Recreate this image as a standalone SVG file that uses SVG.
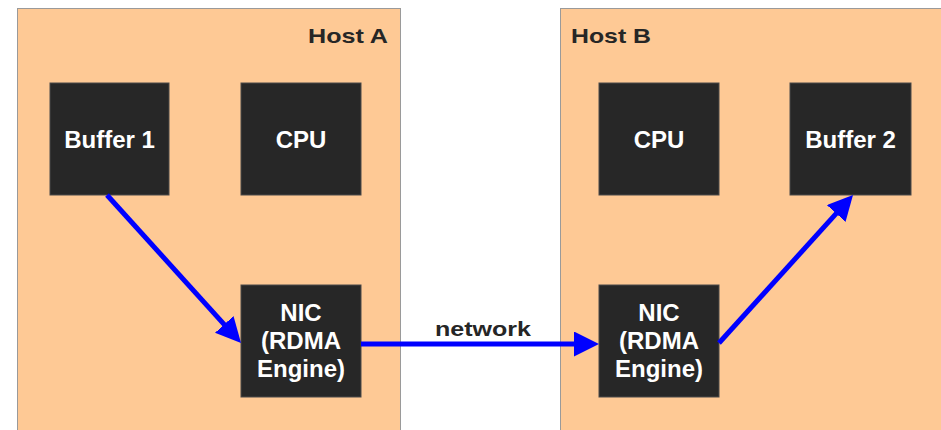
<svg xmlns="http://www.w3.org/2000/svg" width="941" height="430" viewBox="0 0 941 430">
<style>
.host{fill:#FEC995;stroke:#9a9a9a;stroke-width:1}
.node{fill:#272727;stroke:#4a4a4a;stroke-width:1}
.nt{font-family:"Liberation Sans",Arial,sans-serif;font-weight:bold;font-size:24px;fill:#ffffff;text-anchor:middle}
.lbl{font-family:"Liberation Sans",Arial,sans-serif;font-weight:bold;font-size:21px;fill:#262626}
.conn{stroke:#0000ff;stroke-width:5;fill:none}
</style>
<defs>
<marker id="ah" markerUnits="userSpaceOnUse" markerWidth="26" markerHeight="26" refX="15" refY="12.5" orient="auto" viewBox="0 0 26 26">
<path d="M0,0 L25,12.5 L0,25 z" fill="#0000ff"/>
</marker>
</defs>
<g id="hostA">
<rect class="host" x="17.5" y="8.5" width="383" height="430"/>
<text class="lbl" x="388" y="43" text-anchor="end" textLength="80" lengthAdjust="spacingAndGlyphs">Host A</text>
</g>
<g id="hostB">
<rect class="host" x="560.5" y="8.5" width="400" height="430"/>
<text class="lbl" x="571" y="43" textLength="80" lengthAdjust="spacingAndGlyphs">Host B</text>
</g>
<g id="buffer1">
<rect class="node" x="50" y="83" width="119" height="112"/>
<text class="nt" x="109.5" y="148">Buffer 1</text>
</g>
<g id="cpuA">
<rect class="node" x="241" y="83" width="120" height="112"/>
<text class="nt" x="301" y="148">CPU</text>
</g>
<g id="nicA">
<rect class="node" x="241" y="285" width="120" height="112"/>
<text class="nt" x="301" y="321">NIC</text>
<text class="nt" x="301" y="349">(RDMA</text>
<text class="nt" x="301" y="377">Engine)</text>
</g>
<g id="cpuB">
<rect class="node" x="599" y="83" width="120" height="112"/>
<text class="nt" x="659" y="148">CPU</text>
</g>
<g id="buffer2">
<rect class="node" x="790" y="83" width="121" height="112"/>
<text class="nt" x="850.5" y="148">Buffer 2</text>
</g>
<g id="nicB">
<rect class="node" x="599" y="285" width="120" height="112"/>
<text class="nt" x="659" y="321">NIC</text>
<text class="nt" x="659" y="349">(RDMA</text>
<text class="nt" x="659" y="377">Engine)</text>
</g>
<g id="connectors">
<line class="conn" x1="107" y1="195" x2="234.3" y2="335.6" marker-end="url(#ah)"/>
<line class="conn" x1="361" y1="344" x2="589" y2="344" marker-end="url(#ah)"/>
<line class="conn" x1="719" y1="343" x2="846.3" y2="202.4" marker-end="url(#ah)"/>
<text class="lbl" x="435" y="336" textLength="96" lengthAdjust="spacingAndGlyphs">network</text>
</g>
</svg>
